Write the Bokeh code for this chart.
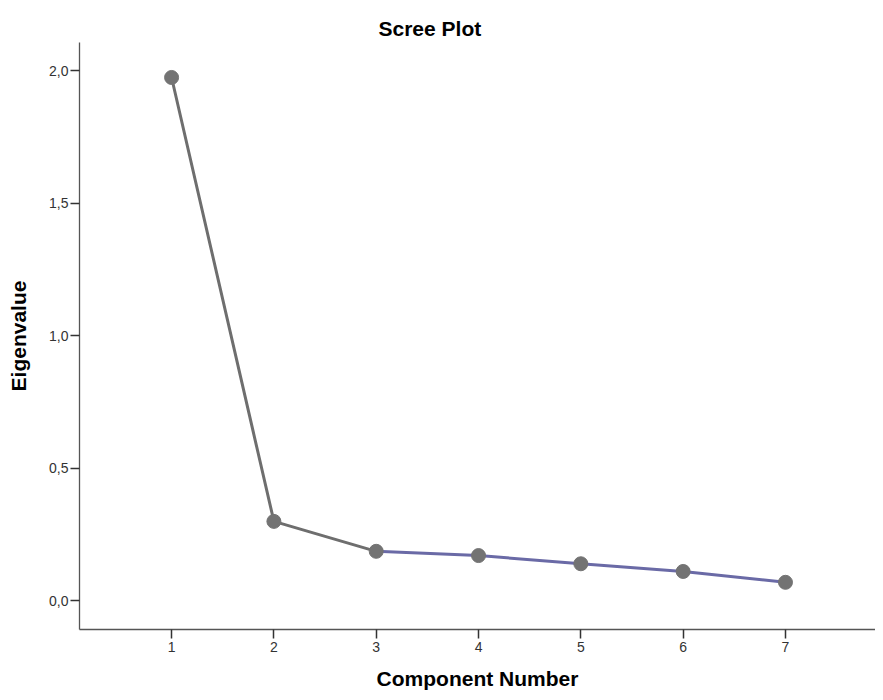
from bokeh.plotting import figure
from bokeh.models import Range1d, FixedTicker
from bokeh.embed import file_html
from bokeh.resources import INLINE

components = [1, 2, 3, 4, 5, 6, 7]
eigenvalues = [1.974, 0.299, 0.186, 0.170, 0.139, 0.110, 0.069]
y_ticks = [0.0, 0.5, 1.0, 1.5, 2.0]
y_tick_labels = {0.0: "0,0", 0.5: "0,5", 1.0: "1,0", 1.5: "1,5", 2.0: "2,0"}

FONT = "Liberation Sans"

p = figure(width=875, height=692, output_backend="svg", toolbar_location=None,
           x_range=Range1d(0.10, 7.88), y_range=Range1d(-0.109, 2.106),
           title="Scree Plot",
           min_border_left=79, min_border_right=0, min_border_top=42, min_border_bottom=62)

p.title.text_font = FONT
p.title.text_font_size = "21px"
p.title.text_font_style = "bold"
p.title.text_color = "#000000"
p.title.align = "left"
p.title.offset = 299
p.title.standoff = 5

p.outline_line_color = None
p.background_fill_color = "white"
p.border_fill_color = "white"
p.xgrid.visible = False
p.ygrid.visible = False

# first segments grey, remaining purple-blue
p.line(components[:3], eigenvalues[:3], line_color="#6e6e6e", line_width=3)
p.line(components[2:], eigenvalues[2:], line_color="#6a6aa6", line_width=3)
p.scatter(components, eigenvalues, size=14, fill_color="#737373", line_color="#737373")

for ax in (p.xaxis, p.yaxis):
    ax.axis_line_color = "#555555"
    ax.axis_line_width = 1.3
    ax.major_tick_line_color = "#333333"
    ax.major_tick_line_width = 1.5
    ax.major_tick_in = 0
    ax.major_tick_out = 9
    ax.minor_tick_line_color = None
    ax.major_label_text_font = FONT
    ax.major_label_text_font_size = "14px"
    ax.major_label_text_color = "#333333"
    ax.axis_label_text_font = FONT
    ax.axis_label_text_font_size = "21px"
    ax.axis_label_text_font_style = "bold"
    ax.axis_label_text_color = "#000000"

p.xaxis.ticker = FixedTicker(ticks=components)
p.xaxis.major_label_standoff = 3
p.xaxis.axis_label = "Component Number"
p.xaxis.axis_label_standoff = 12

p.yaxis.ticker = FixedTicker(ticks=y_ticks)
p.yaxis.major_label_overrides = y_tick_labels
p.yaxis.major_label_standoff = 2
p.yaxis.axis_label = "Eigenvalue"
p.yaxis.axis_label_standoff = 16

open("out.html", "w").write(file_html(p, INLINE))
